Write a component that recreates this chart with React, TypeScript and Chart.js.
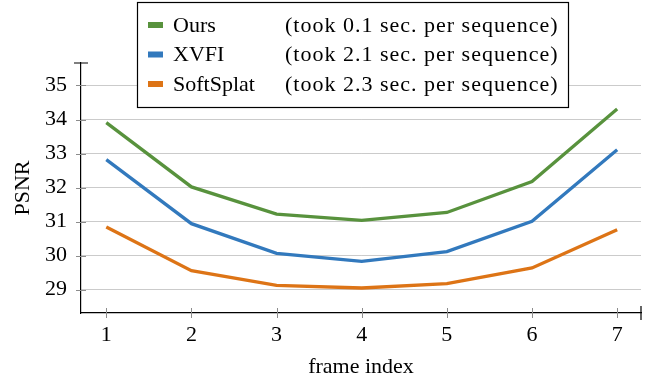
import React, { useEffect, useRef } from 'react';
import { Chart, registerables } from 'chart.js';

Chart.register(...registerables);

const frames = [1, 2, 3, 4, 5, 6, 7];
const yTickValues = [29, 30, 31, 32, 33, 34, 35];
const seriesNames = ['Ours', 'XVFI', 'SoftSplat'];
const seriesNotes = [
  '(took 0.1 sec. per sequence)',
  '(took 2.1 sec. per sequence)',
  '(took 2.3 sec. per sequence)',
];
const oursPSNR = [33.91, 32.02, 31.22, 31.04, 31.27, 32.18, 34.31];
const xvfiPSNR = [32.82, 30.94, 30.07, 29.83, 30.12, 31.01, 33.11];
const softSplatPSNR = [30.84, 29.56, 29.13, 29.05, 29.18, 29.64, 30.76];

const COLORS = ['#58923d', '#3279bd', '#dd7416'];
const FONT = "'Liberation Serif', 'Times New Roman', serif";

const axisDecor = {
  id: 'axisDecor',
  beforeDatasetsDraw(chart: any) {
    const { ctx, chartArea, scales } = chart;
    const { left, right, top, bottom } = chartArea;
    ctx.save();
    ctx.strokeStyle = '#8c8c8c';
    ctx.lineWidth = 1;
    for (const v of yTickValues) {
      const y = Math.round(scales.y.getPixelForValue(v)) + 0.5;
      ctx.beginPath();
      ctx.moveTo(left - 5, y);
      ctx.lineTo(left + 5, y);
      ctx.stroke();
    }
    for (const v of frames) {
      const x = Math.round(scales.x.getPixelForValue(v)) + 0.5;
      ctx.beginPath();
      ctx.moveTo(x, bottom - 5);
      ctx.lineTo(x, bottom + 5);
      ctx.stroke();
    }
    ctx.strokeStyle = '#000';
    ctx.lineWidth = 1.2;
    ctx.beginPath();
    ctx.moveTo(left - 7, top);
    ctx.lineTo(left + 7, top);
    ctx.moveTo(right, bottom - 7);
    ctx.lineTo(right, bottom + 7);
    ctx.stroke();
    ctx.restore();
  },
  afterDraw(chart: any) {
    const { ctx } = chart;
    const bx = 137.5, by = 2.5, bw = 431, bh = 105;
    ctx.save();
    ctx.fillStyle = '#fff';
    ctx.fillRect(bx, by, bw, bh);
    ctx.strokeStyle = '#000';
    ctx.lineWidth = 1.2;
    ctx.strokeRect(bx, by, bw, bh);
    ctx.font = `22px ${FONT}`;
    ctx.textBaseline = 'middle';
    ctx.fillStyle = '#000';
    chart.data.datasets.forEach((ds: any, i: number) => {
      const cy = 25 + i * 29.5;
      ctx.fillStyle = ds.borderColor;
      ctx.fillRect(148, cy - 3, 15, 6);
      ctx.fillStyle = '#000';
      (ctx as any).letterSpacing = '0px';
      ctx.fillText(ds.label, 173, cy + 1);
      (ctx as any).letterSpacing = '1px';
      ctx.fillText(seriesNotes[i], 285, cy + 1);
    });
    (ctx as any).letterSpacing = '0px';
    ctx.restore();
  },
};

export default function App() {
  const canvasRef = useRef<HTMLCanvasElement | null>(null);

  useEffect(() => {
    if (!canvasRef.current) return;
    const values = [oursPSNR, xvfiPSNR, softSplatPSNR];
    const chart = new Chart(canvasRef.current, {
      type: 'line',
      data: {
        datasets: seriesNames.map((name, i) => ({
          label: name,
          data: frames.map((f, j) => ({ x: f, y: values[i][j] })),
          borderColor: COLORS[i],
          backgroundColor: COLORS[i],
          borderWidth: 3.3,
          pointRadius: 0,
          tension: 0,
          fill: false,
        })),
      },
      options: {
        responsive: false,
        animation: false,
        devicePixelRatio: 1,
        layout: { padding: { top: 63, right: 4, left: 0, bottom: 0 } },
        plugins: { legend: { display: false }, tooltip: { enabled: false } },
        scales: {
          x: {
            type: 'linear',
            min: 0.703,
            max: 7.28,
            afterBuildTicks: (s: any) => {
              s.ticks = frames.map((v) => ({ value: v }));
            },
            afterFit: (s: any) => {
              s.height = 63;
            },
            grid: { display: false },
            border: { display: true, color: '#000', width: 1.2 },
            ticks: {
              font: { family: FONT, size: 22 },
              color: '#000',
              padding: 1,
              maxRotation: 0,
              autoSkip: false,
            },
            title: {
              display: true,
              text: 'frame index',
              font: { family: FONT, size: 22, lineHeight: 1.2 },
              color: '#000',
              padding: { top: 0, bottom: -4 },
            },
          },
          y: {
            type: 'linear',
            min: 28.316,
            max: 35.66,
            afterBuildTicks: (s: any) => {
              s.ticks = yTickValues.map((v) => ({ value: v }));
            },
            afterFit: (s: any) => {
              s.width = 81;
            },
            grid: { display: true, color: '#cbcbcb', lineWidth: 1, drawTicks: false },
            border: { display: true, color: '#000', width: 1.2 },
            ticks: {
              font: { family: FONT, size: 22 },
              color: '#000',
              padding: 14,
            },
            title: {
              display: true,
              text: 'PSNR',
              font: { family: FONT, size: 22, lineHeight: 1.2 },
              color: '#000',
              padding: { top: 10, bottom: 0 },
            },
          },
        },
      },
      plugins: [axisDecor],
    });
    return () => chart.destroy();
  }, []);

  return (
    <div style={{ position: 'absolute', left: 0, top: 0, width: 645, height: 376, background: '#fff' }}>
      <canvas ref={canvasRef} width={645} height={376} style={{ display: 'block' }} />
    </div>
  );
}
